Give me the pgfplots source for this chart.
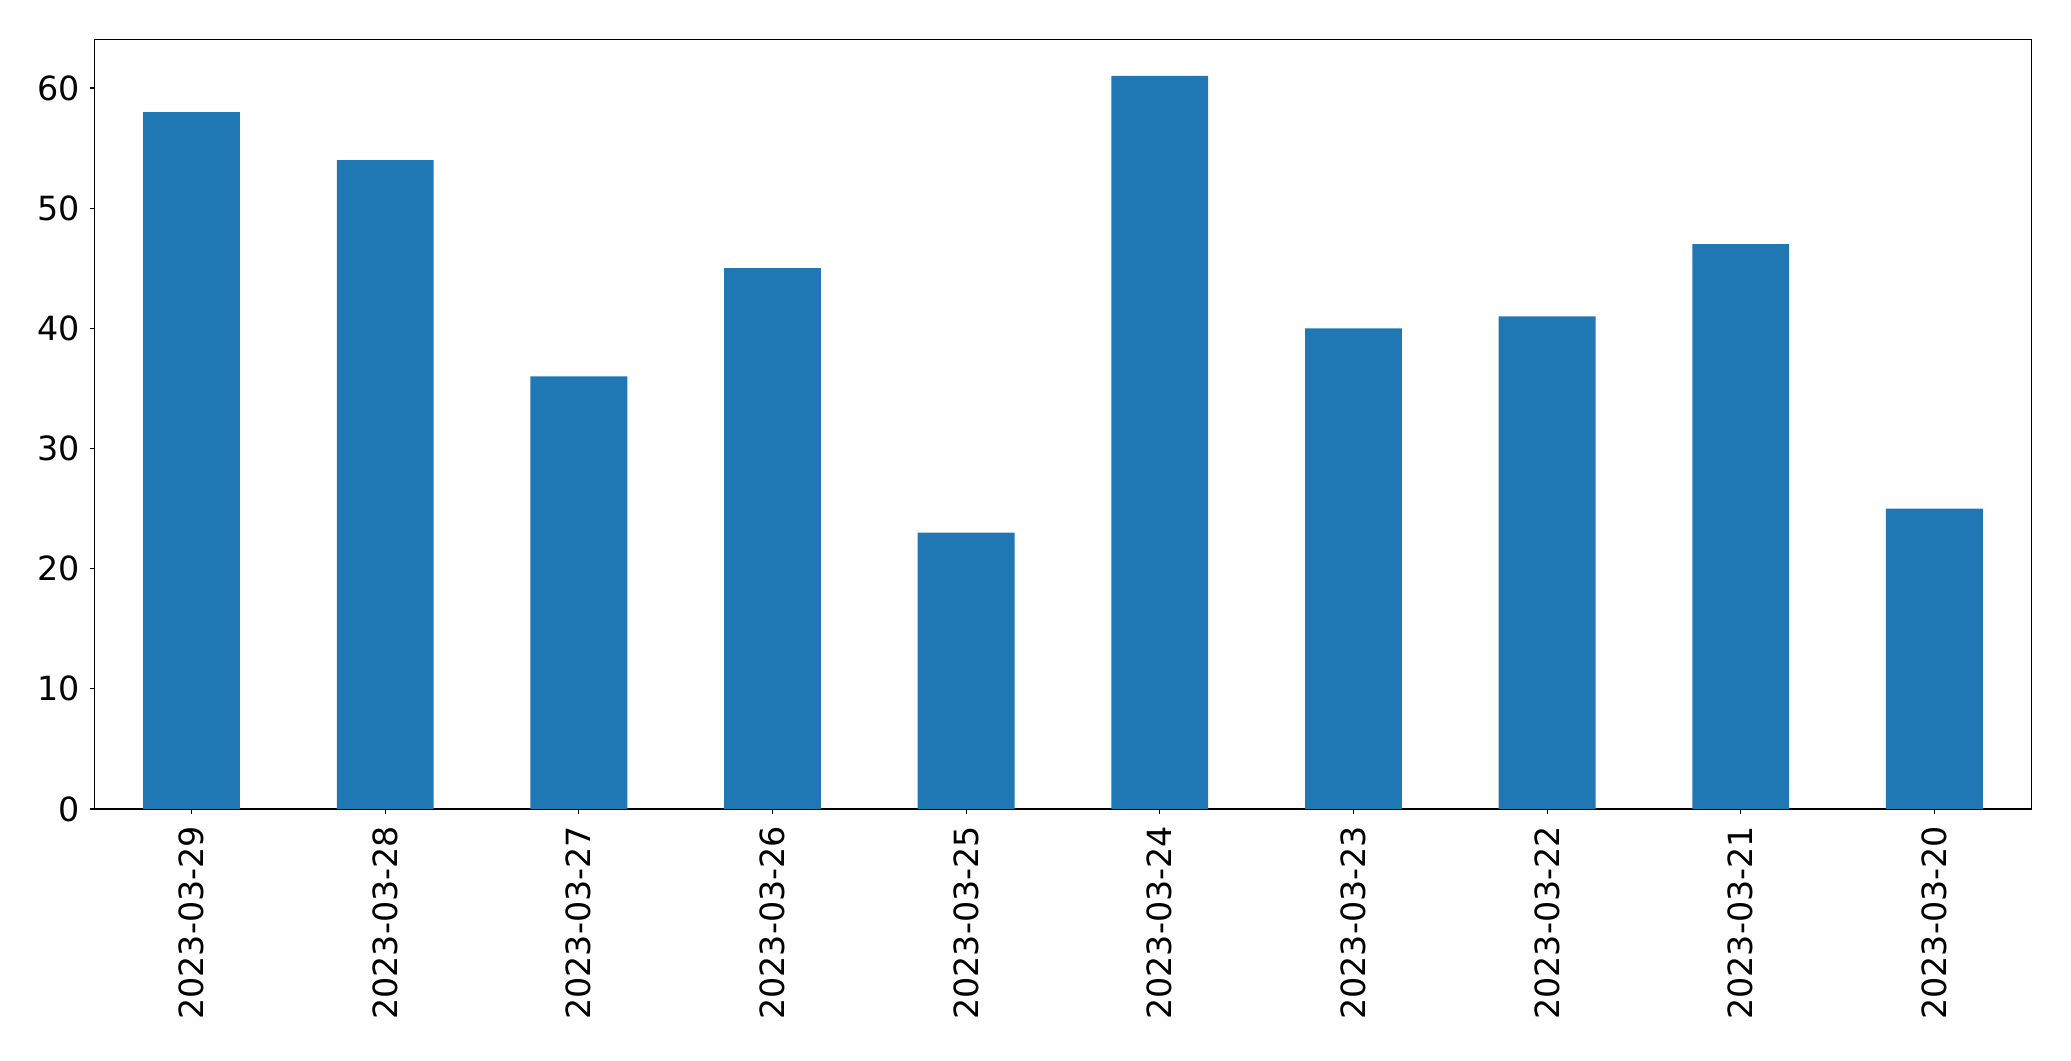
\documentclass[border=0pt]{standalone}
\usepackage{fontspec}
\setmainfont{DejaVu Sans}
\usepackage{pgfplots}
\pgfplotsset{compat=1.18}
\definecolor{tabblue}{HTML}{1F77B4}
\begin{document}
\fontsize{24}{28}\selectfont
\begin{tikzpicture}
\useasboundingbox (-68.2pt,-181.4pt) rectangle (1394.4pt+28.6pt,554.2pt+28.3pt);
\begin{axis}[
  at={(0,0)}, anchor=south west,
  scale only axis,
  width=1394.4pt, height=554.2pt,
  xmin=-0.5, xmax=9.5, ymin=0, ymax=64.05,
  xtick={0,...,9},
  xticklabels={2023-03-29,2023-03-28,2023-03-27,2023-03-26,2023-03-25,2023-03-24,2023-03-23,2023-03-22,2023-03-21,2023-03-20},
  x tick label style={rotate=90, anchor=east, inner sep=0pt, xshift=-8.5pt},
  y tick label style={inner sep=0pt, xshift=-7pt},
  ytick={0,10,20,30,40,50,60},
  tick align=outside,
  tick pos=lower,
  major tick length=3.5pt,
  tick style={black, line width=0.8pt},
  axis line style={line width=0.8pt},
  /pgf/number format/assume math mode=true,
  ticklabel style={font=\fontsize{24}{28}\selectfont},
]
\addplot[ybar, bar width=0.5, fill=tabblue, draw=none] coordinates {
(0,58) (1,54) (2,36) (3,45) (4,23) (5,61) (6,40) (7,41) (8,47) (9,25)
};
\end{axis}
\end{tikzpicture}
\end{document}
